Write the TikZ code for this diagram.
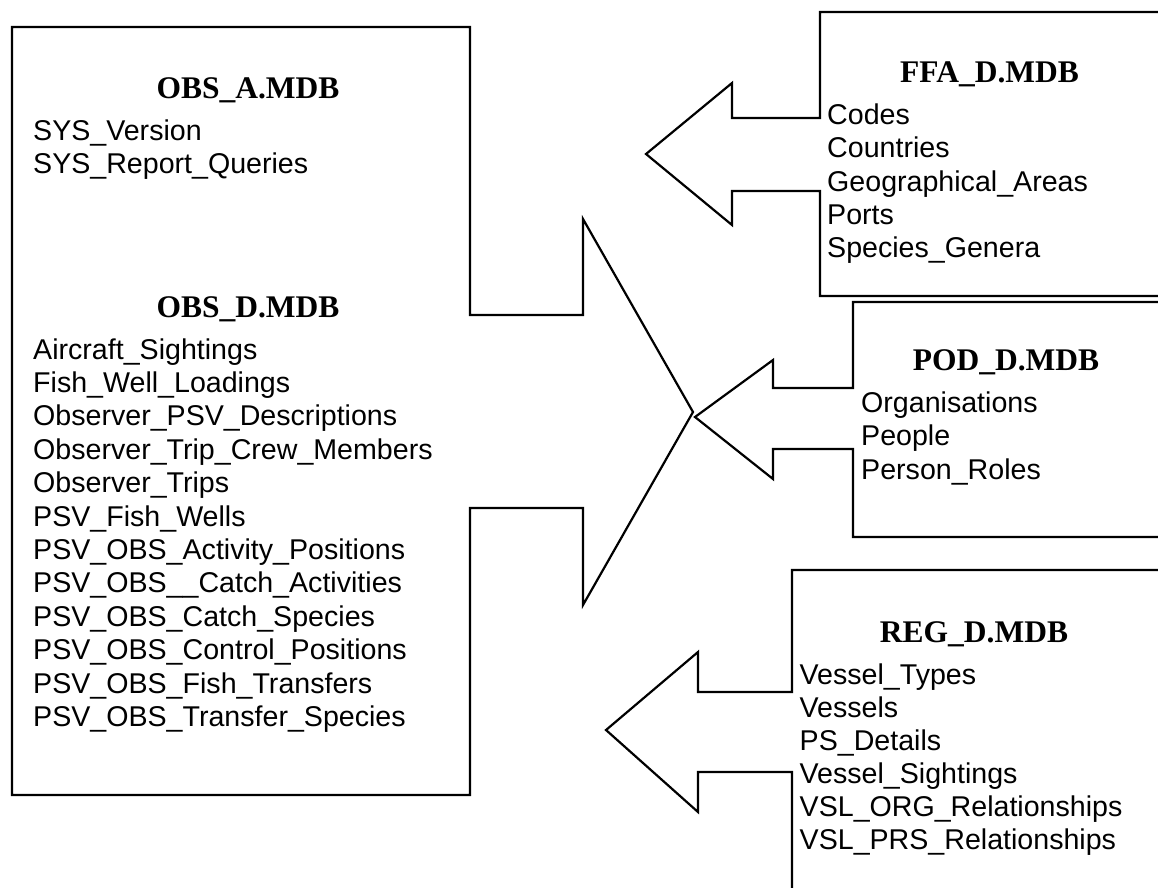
\documentclass[tikz,border=0pt]{standalone}
\usepackage{fontspec}
\newfontfamily\arialf{Liberation Sans}
\newfontfamily\timesf{Liberation Serif}
\newcommand{\itemfnt}{\arialf\fontsize{28.6}{33.4}\selectfont}
\newcommand{\titlefnt}{\timesf\bfseries\fontsize{31.5}{36}\selectfont}
\tikzset{
  itemtext/.style={anchor=base west, inner sep=0pt, font=\itemfnt},
  titletext/.style={anchor=base, inner sep=0pt, font=\titlefnt},
  outline/.style={draw=black, line width=2.2pt, line join=miter, fill=none}
}
\begin{document}
\begin{tikzpicture}[x=1pt, y=-1pt]
\useasboundingbox (0,0) rectangle (1158,887);
\clip (0,0) rectangle (1158,887);
\fill[white] (0,0) rectangle (1158,887);

% left box with arrow to the right
\draw[outline] (12,27) -- (470,27) -- (470,315) -- (583,315) -- (583,219)
  -- (693,412) -- (583,605) -- (583,508) -- (470,508) -- (470,795)
  -- (12,795) -- cycle;

% FFA box
\draw[outline] (1170,12) -- (820,12) -- (820,118) -- (732,118) -- (732,83)
  -- (646,154) -- (732,225) -- (732,191) -- (820,191) -- (820,296) -- (1170,296);

% POD box
\draw[outline] (1170,302) -- (853,302) -- (853,388) -- (773,388) -- (773,360)
  -- (695,417) -- (773,479) -- (773,449) -- (853,449) -- (853,537) -- (1170,537);

% REG box
\draw[outline] (1170,570) -- (792,570) -- (792,692) -- (698,692) -- (698,652)
  -- (606,730) -- (698,812) -- (698,772) -- (792,772) -- (792,900);

% titles
\node[titletext] (obsa) at (248,98) {OBS\_A.MDB};
\node[titletext] (obsd) at (248,317) {OBS\_D.MDB};
\node[titletext] (ffa) at (989.5,82) {FFA\_D.MDB};
\node[titletext] (pod) at (1006,370) {POD\_D.MDB};
\node[titletext] (reg) at (974,642) {REG\_D.MDB};

% OBS_A items
\foreach \t [count=\i] in {SYS\_Version, SYS\_Report\_Queries}
  \node[itemtext] (obsa\i) at (33,{140+(\i-1)*33.4}) {\t};

% OBS_D items
\foreach \t [count=\i] in {Aircraft\_Sightings, Fish\_Well\_Loadings,
  Observer\_PSV\_Descriptions, Observer\_Trip\_Crew\_Members, Observer\_Trips,
  PSV\_Fish\_Wells, PSV\_OBS\_Activity\_Positions, PSV\_OBS\_\_Catch\_Activities,
  PSV\_OBS\_Catch\_Species, PSV\_OBS\_Control\_Positions, PSV\_OBS\_Fish\_Transfers,
  PSV\_OBS\_Transfer\_Species}
  \node[itemtext] (obsd\i) at (33,{359+(\i-1)*33.4}) {\t};

% FFA items
\foreach \t [count=\i] in {Codes, Countries, Geographical\_Areas, Ports, Species\_Genera}
  \node[itemtext] (ffa\i) at (827,{124.5+(\i-1)*33.3}) {\t};

% POD items
\foreach \t [count=\i] in {Organisations, People, Person\_Roles}
  \node[itemtext] (pod\i) at (861,{412+(\i-1)*33.7}) {\t};

% REG items
\foreach \t [count=\i] in {Vessel\_Types, Vessels, PS\_Details, Vessel\_Sightings,
  VSL\_ORG\_Relationships, VSL\_PRS\_Relationships}
  \node[itemtext] (reg\i) at (799.5,{684+(\i-1)*33}) {\t};
\end{tikzpicture}
\end{document}
